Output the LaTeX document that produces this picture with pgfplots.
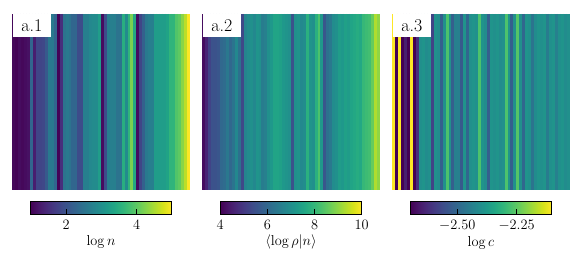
\documentclass[border=0pt]{standalone}
\usepackage{pgfplots}
\pgfplotsset{compat=1.18}
\usepackage{pgfplotstable}

\pgfplotstableread{
i v
0 1.05
1 1.00
2 1.10
3 1.05
4 1.10
5 1.15
6 2.30
7 1.30
8 1.80
9 1.80
10 1.85
11 2.10
12 2.60
13 2.60
14 2.30
15 1.00
16 1.50
17 2.50
18 2.60
19 2.50
20 2.30
21 2.30
22 1.90
23 1.90
24 2.70
25 2.70
26 2.85
27 2.90
28 2.90
29 3.20
30 1.10
31 1.90
32 2.70
33 2.70
34 2.70
35 2.50
36 2.50
37 3.50
38 2.90
39 3.60
40 4.20
41 3.40
42 1.10
43 1.80
44 2.20
45 2.60
46 2.70
47 2.70
48 3.20
49 3.20
50 3.20
51 3.20
52 3.30
53 3.60
54 3.60
55 3.90
56 4.00
57 4.30
58 4.60
59 5.00
}\dataA

\pgfplotstableread{
i v
0 4.2
1 4.6
2 5.2
3 5.5
4 5.5
5 5.6
6 6.0
7 6.1
8 6.4
9 6.0
10 6.3
11 6.8
12 6.2
13 5.3
14 6.7
15 6.9
16 7.0
17 6.8
18 7.1
19 7.0
20 6.5
21 6.6
22 7.0
23 7.2
24 7.5
25 7.5
26 7.4
27 7.2
28 7.1
29 7.0
30 5.5
31 7.0
32 7.1
33 6.8
34 6.9
35 7.8
36 7.1
37 7.0
38 7.8
39 8.3
40 7.2
41 5.6
42 6.2
43 6.4
44 6.9
45 7.0
46 7.3
47 7.2
48 7.4
49 7.3
50 7.5
51 7.6
52 7.7
53 7.6
54 8.0
55 8.1
56 8.2
57 8.6
58 9.3
59 9.0
}\dataB

\pgfplotstableread{
i v
0 -2.10
1 -2.70
2 -2.10
3 -2.70
4 -2.65
5 -2.70
6 -2.10
7 -2.70
8 -2.62
9 -2.40
10 -2.39
11 -2.41
12 -2.40
13 -2.58
14 -2.40
15 -2.41
16 -2.52
17 -2.40
18 -2.27
19 -2.40
20 -2.52
21 -2.44
22 -2.44
23 -2.53
24 -2.39
25 -2.50
26 -2.40
27 -2.39
28 -2.40
29 -2.27
30 -2.39
31 -2.41
32 -2.52
33 -2.39
34 -2.40
35 -2.39
36 -2.41
37 -2.40
38 -2.27
39 -2.39
40 -2.52
41 -2.40
42 -2.26
43 -2.40
44 -2.50
45 -2.39
46 -2.40
47 -2.47
48 -2.41
49 -2.39
50 -2.40
51 -2.39
52 -2.45
53 -2.40
54 -2.39
55 -2.44
56 -2.40
57 -2.39
58 -2.41
59 -2.40
}\dataC

\tikzset{
  paneltag/.style={fill=white, inner sep=0pt, anchor=north west,
    minimum width=38.5bp, minimum height=23bp,
    font=\fontsize{18}{21}\selectfont},
}
\pgfplotsset{
  stripepanel/.style={
    anchor=south west,
    scale only axis, width=177bp, height=176bp,
    xmin=-0.5, xmax=59.5, ymin=0, ymax=1,
    axis line style={draw=none}, xtick=\empty, ytick=\empty,
    colormap/viridis,
    colorbar horizontal,
    colorbar style={
      at={(parent axis.south)}, anchor=north, yshift=-3bp,
      scale only axis, width=141.5bp, height=13bp,
      xtick pos=left, xticklabel pos=left,
      tick align=inside,
      major tick length=6bp,
      every tick/.style={black, line width=0.7bp},
      axis line style={line width=0.7bp},
      ticklabel style={font=\fontsize{15}{18}\selectfont},
      xticklabel style={yshift=-2bp},
      label style={font=\fontsize{15}{18}\selectfont},
      xlabel style={yshift=1bp},
    },
  },
  stripes/.style={scatter, only marks, mark=|, mark size=88bp,
    point meta=explicit,
    scatter/use mapped color={draw=mapped color, line width=3bp}},
}

\begin{document}
\begin{tikzpicture}
\useasboundingbox (0,0) rectangle (582bp,265bp);

\begin{axis}[stripepanel, name=p1, at={(12.5bp,75bp)},
  point meta min=0.979, point meta max=5.0,
  colorbar style={xtick={2,4}, xlabel={$\log n$}}]
\addplot[stripes] table[x=i, y expr=0.5, meta=v] {\dataA};
\end{axis}
\node[paneltag] at (p1.north west) {a.1};

\begin{axis}[stripepanel, name=p2, at={(202.5bp,75bp)},
  point meta min=4, point meta max=10,
  colorbar style={xtick={4,6,8,10}, xlabel={$\langle\log\rho|n\rangle$}}]
\addplot[stripes] table[x=i, y expr=0.5, meta=v] {\dataB};
\end{axis}
\node[paneltag] at (p2.north west) {a.2};

\begin{axis}[stripepanel, name=p3, at={(392.5bp,75bp)},
  point meta min=-2.698, point meta max=-2.102,
  colorbar style={xtick={-2.5,-2.25}, xticklabels={$-2.50$,$-2.25$}, xlabel={$\log c$}}]
\addplot[stripes] table[x=i, y expr=0.5, meta=v] {\dataC};
\end{axis}
\node[paneltag] at (p3.north west) {a.3};
\end{tikzpicture}
\end{document}
